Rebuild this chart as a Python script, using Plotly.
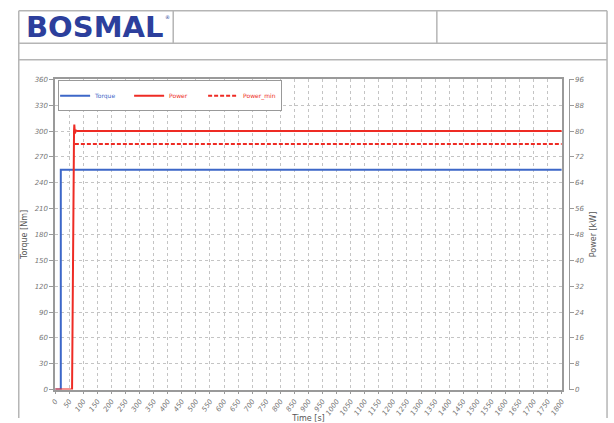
import plotly.graph_objects as go

# ---- data ----
torque_t = [0, 20, 20, 1800]
torque_nm = [0, 0, 255, 255]

power_t = [0, 60, 67, 68, 70, 74, 80, 1800]
power_kw = [0, 0, 80, 82, 79.3, 80.2, 80, 80]

power_min_t = [70, 1800]
power_min_kw = [76, 76]

x_ticks = list(range(0, 1801, 50))
left_range = [0, 360]
right_range = [0, 96]

W, H = 614, 423
def px(x):
    return x / W
def py(y):
    return (H - y) / H

BLUE = "#3d67c8"
RED = "#ee2b24"
GRID = "#c4c4c4"
AX = "#9a9a9a"
TICKF = dict(family="DejaVu Sans", size=7, color="#777777", style="italic")

fig = go.Figure()
fig.add_trace(go.Scatter(x=torque_t, y=torque_nm, mode="lines",
                         name="<span style='color:%s'>Torque</span>" % BLUE,
                         line=dict(color=BLUE, width=2), yaxis="y"))
fig.add_trace(go.Scatter(x=power_t, y=power_kw, mode="lines",
                         name="<span style='color:%s'>Power</span>" % RED,
                         line=dict(color=RED, width=2), yaxis="y2"))
fig.add_trace(go.Scatter(x=power_min_t, y=power_min_kw, mode="lines",
                         name="<span style='color:%s'>Power_min</span>" % RED,
                         line=dict(color=RED, width=2, dash="4px,2px"), yaxis="y2"))

x0, x1 = px(51), px(566)
y0, y1 = py(394), py(77)

fig.update_layout(
    width=W, height=H,
    margin=dict(l=0, r=0, t=0, b=0),
    paper_bgcolor="white", plot_bgcolor="white",
    showlegend=True,
    legend=dict(orientation="h", x=px(54), y=py(78), xanchor="left", yanchor="top",
                bgcolor="white", bordercolor="#999999", borderwidth=1,
                font=dict(family="DejaVu Sans", size=6), itemwidth=30,
                tracegroupgap=0, entrywidth=33, indentation=-4),
    xaxis=dict(domain=[x0, x1], range=[0, 1800], tickvals=x_ticks,
               ticktext=[str(v) for v in x_ticks], tickangle=-55,
               tickfont=TICKF, showgrid=True, gridcolor=GRID, griddash="dot",
               gridwidth=1, showline=True, linecolor=AX, linewidth=1.5, mirror=True,
               ticks="outside", ticklen=3, tickcolor=AX, zeroline=False,
               title=dict(text="Time [s]", font=dict(family="DejaVu Sans", size=8, color="#555555"),
                          standoff=0)),
    yaxis=dict(domain=[y0, y1], range=left_range, dtick=30, tickfont=TICKF,
               showgrid=True, gridcolor=GRID, griddash="dot", showline=True,
               linecolor=AX, linewidth=1.5, mirror=True, ticks="outside", ticklen=4,
               tickcolor=AX, zeroline=False,
               title=dict(text="Torque [Nm]", font=dict(family="DejaVu Sans", size=8, color="#555555"),
                          standoff=6)),
    yaxis2=dict(range=right_range, dtick=8, overlaying="y", side="right",
                anchor="free", position=px(573), tickfont=TICKF, showgrid=False,
                showline=True, linecolor=AX, linewidth=1, ticks="outside", ticklen=4,
                tickcolor=AX, zeroline=False,
                title=dict(text="Power [kW]", font=dict(family="DejaVu Sans", size=8, color="#555555"),
                           standoff=6)),
)

# header frame
LC = "#b5b5b5"
shapes = []
def line(xa, ya, xb, yb, w=1.5):
    shapes.append(dict(type="line", xref="paper", yref="paper",
                       x0=px(xa), y0=py(ya), x1=px(xb), y1=py(yb),
                       line=dict(color=LC, width=w)))
line(14, 7, 612, 7)
line(14, 40, 612, 40)
line(14, 57, 612, 57)
line(14, 7, 14, 423)
line(612, 7, 612, 423)
line(171, 7, 171, 40)
line(439, 7, 439, 40)
fig.update_layout(shapes=shapes)

fig.add_annotation(xref="paper", yref="paper", x=px(19), y=py(24),
                   xanchor="left", yanchor="middle", showarrow=False,
                   text="<b>BOSMAL</b>",
                   font=dict(family="DejaVu Sans", size=29, color="#2c3f9c"))
fig.add_annotation(xref="paper", yref="paper", x=px(161), y=py(13),
                   xanchor="left", yanchor="middle", showarrow=False,
                   text="®", font=dict(family="DejaVu Sans", size=5, color="#2c3f9c"))

fig.write_html("out.html", post_script="document.body.style.margin='0';",
               config={"displayModeBar": False})
